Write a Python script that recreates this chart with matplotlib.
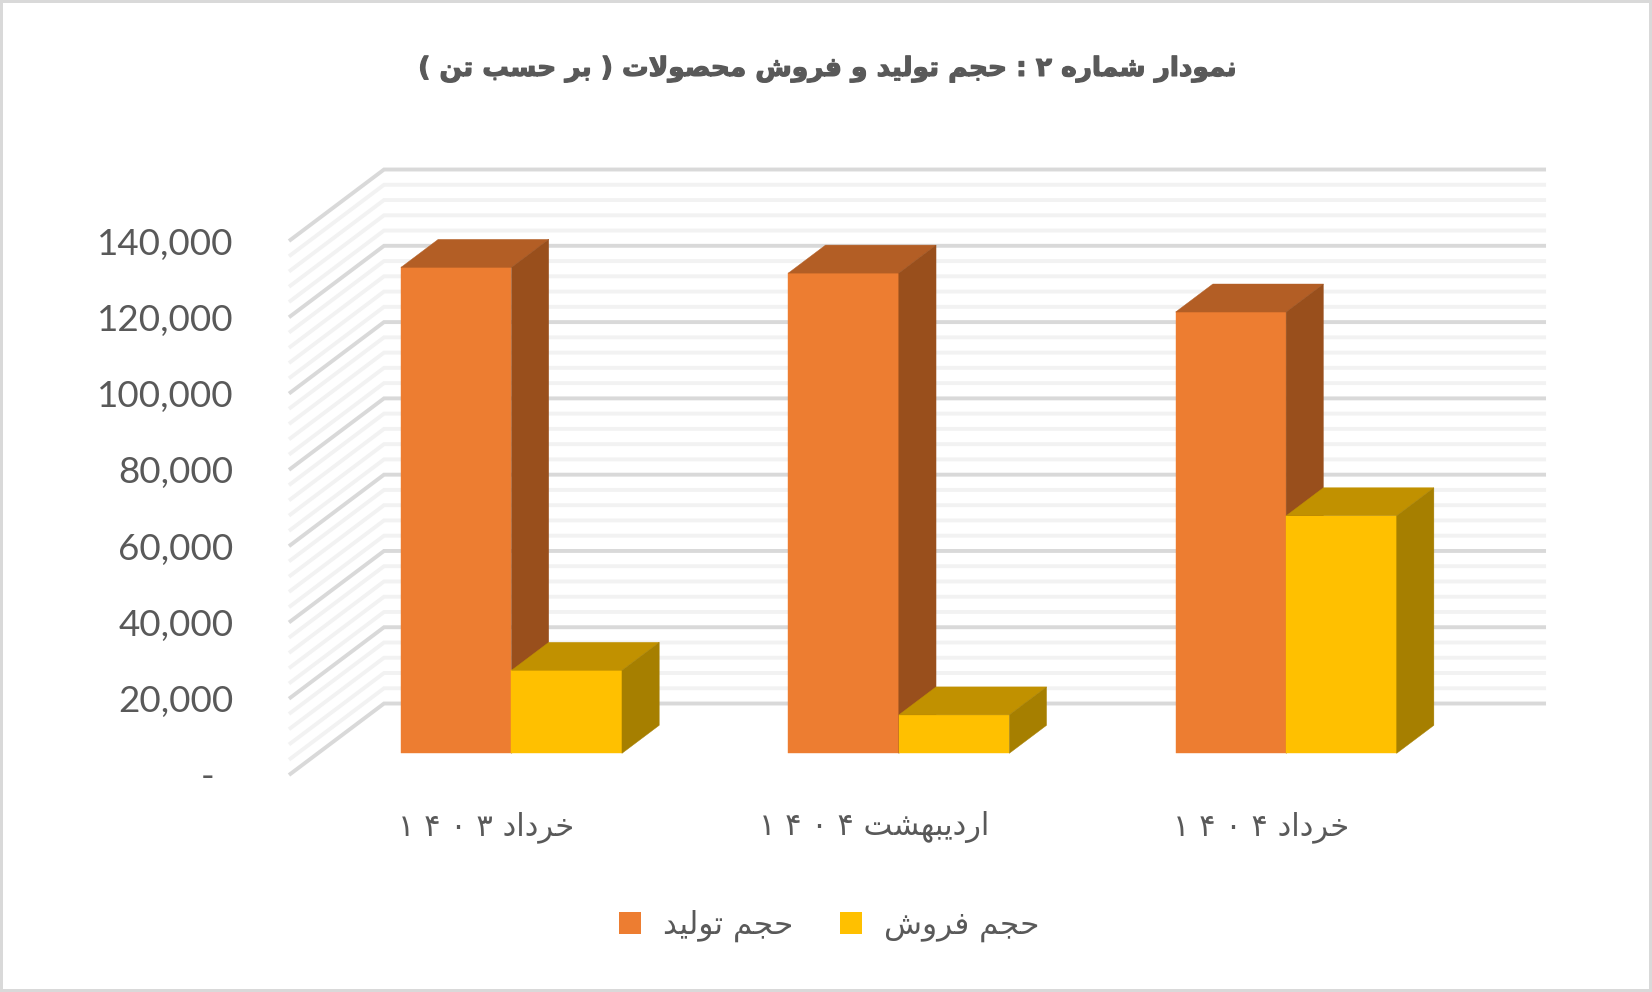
"""Grouped pseudo-3D columns: production and sales volume, with Persian labels."""

import matplotlib

matplotlib.use("Agg")
import matplotlib.patheffects as pe
import matplotlib.pyplot as plt
from matplotlib.patches import Patch, Polygon
from matplotlib.ticker import FuncFormatter, MultipleLocator

TITLE = "نمودار شماره ۲ : حجم تولید و فروش محصولات ( بر حسب تن )"
MONTHS = ["خرداد ۱۴۰۳", "اردیبهشت ۱۴۰۴", "خرداد ۱۴۰۴"]
SERIES_NAMES = ["حجم تولید", "حجم فروش"]
PRODUCTION = [127400, 125900, 115700]
SALES = [21750, 10070, 62280]

W, H = 1652, 992
TEXT = "#595959"
GRID_MAJOR, GRID_MINOR = "#D9D9D9", "#F2F2F2"
ORANGE = ("#ED7D31", "#B35E25", "#994F1C")  # front, top, side
YELLOW = ("#FFC000", "#C19100", "#A67F00")

# oblique projection: one full depth of the floor, in data units
DEPTH_X, DEPTH_Y = 0.2453, 18740
BAR_W = 0.2853
BAR_D0, BAR_D1 = 0.303, 0.695
LABEL_SHIFT = 0.01  # month labels sit a little right of the group centre

# first code point of each letter's presentation forms (isol, final, init, medial)
FORMS = {
    "ا": 0xFE8D, "ب": 0xFE8F, "ت": 0xFE95, "ج": 0xFE9D, "ح": 0xFEA1, "خ": 0xFEA5,
    "د": 0xFEA9, "ر": 0xFEAD, "س": 0xFEB1, "ش": 0xFEB5, "ص": 0xFEB9, "ف": 0xFED1,
    "ل": 0xFEDD, "م": 0xFEE1, "ن": 0xFEE5, "ه": 0xFEE9, "و": 0xFEED, "ی": 0xFBFC,
}
RIGHT_JOIN = set("ادرو")
DIGITS = set("۰۱۲۳۴۵۶۷۸۹")
MIRROR = {"(": ")", ")": "("}


def shape(text, digit_gap=""):
    """matplotlib does no bidi or joining, so build the visual-order string here."""
    out = []
    i = 0
    prev_joins = False
    while i < len(text):
        ch = text[i]
        if ch not in FORMS:
            out.append(MIRROR.get(ch, ch))
            prev_joins = False
            i += 1
            continue
        nxt = text[i + 1] if i + 1 < len(text) else ""
        if ch == "ل" and nxt == "ا":  # lam-alef ligature
            out.append(chr(0xFEFC if prev_joins else 0xFEFB))
            prev_joins = False
            i += 2
            continue
        joins_next = ch not in RIGHT_JOIN and nxt in FORMS
        if ch in RIGHT_JOIN:
            form = 1 if prev_joins else 0
        else:
            form = (3 if joins_next else 1) if prev_joins else (2 if joins_next else 0)
        out.append(chr(FORMS[ch] + form))
        prev_joins = joins_next
        i += 1

    # reverse for RTL, but digit runs keep their own order
    visual, run = [], []
    for ch in reversed(out):
        if ch in DIGITS:
            run.append(ch)
        else:
            visual.append(digit_gap.join(reversed(run)))
            run = []
            visual.append(ch)
    visual.append(digit_gap.join(reversed(run)))
    return "".join(visual)


def project(x, value, depth):
    return x + depth * DEPTH_X, value + depth * DEPTH_Y


def draw_box(ax, x0, width, value, colors):
    """Front, top and side faces of one column, from the value on the y scale."""
    x1 = x0 + width
    front = [project(x0, 0, BAR_D0), project(x1, 0, BAR_D0),
             project(x1, value, BAR_D0), project(x0, value, BAR_D0)]
    top = [project(x0, value, BAR_D0), project(x1, value, BAR_D0),
           project(x1, value, BAR_D1), project(x0, value, BAR_D1)]
    side = [project(x1, 0, BAR_D0), project(x1, 0, BAR_D1),
            project(x1, value, BAR_D1), project(x1, value, BAR_D0)]
    for pts, color in zip((front, top, side), colors):
        ax.add_patch(Polygon(pts, closed=True, facecolor=color, edgecolor=color,
                             linewidth=0.3, clip_on=False, zorder=3))


fig = plt.figure(figsize=(W / 100, H / 100), dpi=100, facecolor="white",
                 edgecolor=GRID_MAJOR, linewidth=2.9)
ax = fig.add_axes([289 / W, 1 - 775 / H, 1162 / W, 534 / H])
ax.set_xlim(-0.5, 2.5)
ax.set_ylim(0, 140000)
for spine in ax.spines.values():
    spine.set_visible(False)

# walls: minor lines first so the major ones sit on top
for value in range(0, 140001, 4000):
    is_major = value % 20000 == 0
    pts = [project(-0.5, value, 0), project(-0.5, value, 1), project(2.5, value, 1)]
    ax.plot(*zip(*pts), color=GRID_MAJOR if is_major else GRID_MINOR, linewidth=2.8,
            solid_capstyle="butt", solid_joinstyle="miter", clip_on=False,
            zorder=2 if is_major else 1)

for i in range(len(MONTHS)):
    draw_box(ax, i - BAR_W, BAR_W, PRODUCTION[i], ORANGE)
    draw_box(ax, i, BAR_W, SALES[i], YELLOW)

ax.yaxis.set_major_locator(MultipleLocator(20000))
ax.yaxis.set_major_formatter(FuncFormatter(lambda v, _: f"{v:,.0f}" if v else "-  "))
ax.tick_params(axis="y", length=0, pad=40, labelsize=26.5, labelcolor=TEXT, labelfontfamily="Lato")
ax.set_xticks([i + LABEL_SHIFT for i in range(len(MONTHS))])
ax.set_xticklabels([shape(m, digit_gap=" ") for m in MONTHS], family="DejaVu Sans", fontsize=22, color=TEXT)
ax.tick_params(axis="x", length=0, pad=26)

handles = [Patch(facecolor=ORANGE[0], label=shape(SERIES_NAMES[0])),
           Patch(facecolor=YELLOW[0], label=shape(SERIES_NAMES[1]))]
fig.legend(handles=handles, loc="center", bbox_to_anchor=(829 / W, 1 - 926 / H), ncols=2,
           frameon=False, labelcolor=TEXT, handlelength=0.72, handleheight=0.75,
           handletextpad=0.7, columnspacing=1.5, prop={"family": "DejaVu Sans", "size": 22.4})

fig.text(827 / W, 1 - 69 / H, shape(TITLE), ha="center", va="center", family="DejaVu Sans",
         fontweight="bold", fontsize=19, color=TEXT,
         path_effects=[pe.withStroke(linewidth=0.9, foreground=TEXT)])

fig.savefig("out.png", dpi=100, facecolor="white", edgecolor=GRID_MAJOR)
